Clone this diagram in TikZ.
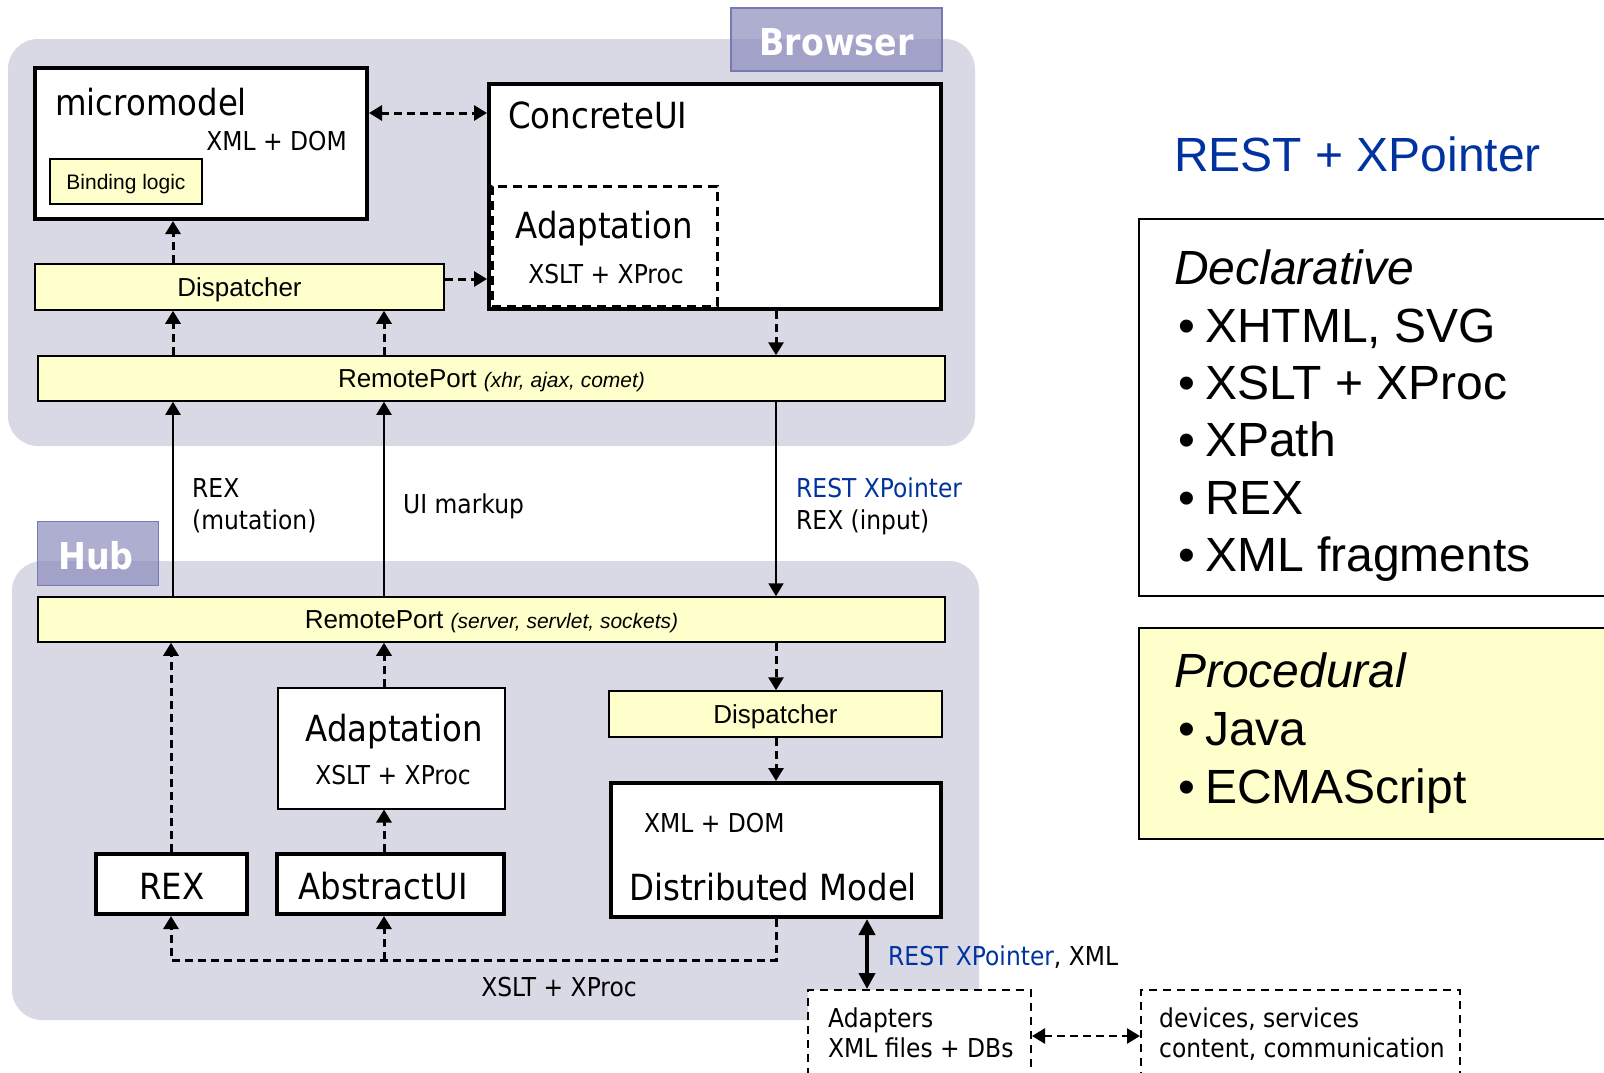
\documentclass[tikz,border=0pt]{standalone}
\usepackage{fontspec}
\setmainfont{Liberation Sans}
\newfontfamily\tah[FakeStretch=0.9]{DejaVu Sans}
\usetikzlibrary{arrows.meta}

\definecolor{panelbg}{RGB}{217,217,230}
\definecolor{tabfill}{RGB}{140,140,190}
\definecolor{tabline}{RGB}{120,120,180}
\definecolor{note}{RGB}{255,255,204}
\definecolor{restblue}{RGB}{0,51,160}

\newcommand\setfs[1]{\fontsize{#1}{#1}\selectfont}

\begin{document}
\begin{tikzpicture}[x=1pt,y=-1pt,
  panel/.style={fill=panelbg, rounded corners=30pt, inner sep=0pt},
  tab/.style={fill=tabfill, fill opacity=0.7, draw=tabline, line width=1.5pt, inner sep=0pt},
  tabtext/.style={anchor=base, inner sep=0pt, text=white, font=\tah\bfseries\setfs{37}},
  bigbox/.style={draw, fill=white, line width=4pt, inner sep=0pt},
  yel/.style={draw, fill=note, line width=1.5pt, inner sep=0pt,
    font=\setfs{26}, text height=18.6pt, text depth=0pt},
  big/.style={inner sep=0pt, font=\tah\setfs{36}},
  small/.style={inner sep=0pt, font=\tah\setfs{26}},
  rtext/.style={inner sep=0pt, anchor=base west, font=\setfs{48}},
  tip/.style={-{Triangle[length=13pt,width=15pt]}},
  dar/.style={tip, line width=3pt, dash pattern=on 8pt off 5pt},
  dline/.style={line width=3pt, dash pattern=on 8pt off 5pt},
  sar/.style={tip, line width=2pt},
  dbox/.style={draw, line width=2pt, dash pattern=on 8pt off 6pt, fill=white, inner sep=0pt}
]
\useasboundingbox (0,0) rectangle (1604,1072);

% column and row guides for the connectors
\coordinate (colA) at (173,0);
\coordinate (colA2) at (171,0);
\coordinate (colB) at (384,0);
\coordinate (colC) at (776,0);
\coordinate (colD) at (867,0);
\coordinate (rowA) at (0,113);
\coordinate (rowB) at (0,279);
\coordinate (rowC) at (0,960);
\coordinate (rowD) at (0,1036);

% ---------- panels ----------
\node[panel, minimum width=967pt, minimum height=407pt] (browser) at (491.5,242.5) {};
\node[panel, minimum width=967pt, minimum height=459pt] (hub) at (495.5,790.5) {};
\node[tab, minimum width=211pt, minimum height=63pt] (browsertab) at (836.5,39.5) {};
\node[tabtext] (browserlbl) at (836.5,55) {Browser};
\node[tab, minimum width=121pt, minimum height=64pt] (hubtab) at (98,553.5) {};
\node[tabtext] (hublbl) at (96,569) {Hub};

% ---------- browser side ----------
\node[bigbox, minimum width=332pt, minimum height=151pt] (mm) at (201,143.5) {};
\node[big, anchor=base west] (mmname) at (55,115) {micromodel};
\node[small, anchor=base east] (mmxml) at (347,150) {XML + DOM};
\node[yel, font=\setfs{21}, text height=15pt, minimum width=152pt, minimum height=45pt] (bind) at (126,181.5) {Binding logic};

\node[bigbox, minimum width=452pt, minimum height=225pt] (cui) at (715,196.5) {};
\node[big, anchor=base west] (cuiname) at (508,128) {ConcreteUI};
\node[draw, line width=3pt, dash pattern=on 9pt off 6pt, inner sep=0pt,
      minimum width=225pt, minimum height=120pt] (badapt) at (604.5,246) {};
\node[big, anchor=base] (badaptname) at (604,238) {Adaptation};
\node[small, anchor=base] (badaptx) at (606,283) {XSLT + XProc};

\node[yel, minimum width=409pt, minimum height=46pt] (disp1) at (239.5,287) {Dispatcher};
\node[yel, minimum width=907pt, minimum height=45pt] (rp1) at (491.5,378.5)
  {RemotePort {\setfs{21}\itshape(xhr, ajax, comet)}};

\draw[dar] (disp1.north -| colA) -- (mm.south -| colA);
\draw[dar] (rp1.north -| colA) -- (disp1.south -| colA);
\draw[dar] (rp1.north -| colB) -- (disp1.south -| colB);
\draw[dar, {Triangle[length=13pt,width=15pt]}-{Triangle[length=13pt,width=15pt]}]
  (mm.east |- rowA) -- (cui.west |- rowA);
\draw[dar] (disp1.east |- rowB) -- (cui.west |- rowB);
\draw[dar] (cui.south -| colC) -- (rp1.north -| colC);

% ---------- hub side ----------
\node[yel, minimum width=907pt, minimum height=45pt] (rp2) at (491.5,619.5)
  {RemotePort {\setfs{21}\itshape(server, servlet, sockets)}};
\node[draw, fill=white, line width=2pt, inner sep=0pt, minimum width=227pt, minimum height=121pt] (hadapt) at (391,748) {};
\node[big, anchor=base] (hadaptname) at (394,741) {Adaptation};
\node[small, anchor=base] (hadaptx) at (393,784) {XSLT + XProc};
\node[yel, minimum width=333pt, minimum height=46pt] (disp2) at (775.5,714) {Dispatcher};
\node[bigbox, minimum width=330pt, minimum height=134pt] (dm) at (776,850) {};
\node[small, anchor=base west] (dmxml) at (644,832) {XML + DOM};
\node[big, anchor=base west] (dmname) at (629,900) {Distributed Model};
\node[bigbox, minimum width=151pt, minimum height=60pt] (rex) at (171.5,884) {};
\node[big, anchor=base] (rexname) at (172,899) {REX};
\node[bigbox, minimum width=227pt, minimum height=60pt] (aui) at (390.5,884) {};
\node[big, anchor=base] (auiname) at (383,899) {AbstractUI};

\draw[dar] (rex.north -| colA2) -- (rp2.south -| colA2);
\draw[dar] (hadapt.north -| colB) -- (rp2.south -| colB);
\draw[dar] (aui.north -| colB) -- (hadapt.south -| colB);
\draw[dar] (rp2.south -| colC) -- (disp2.north -| colC);
\draw[dar] (disp2.south -| colC) -- (dm.north -| colC);
\draw[dar] (dm.south -| colC) -- (colC |- rowC) -- (colA2 |- rowC) -- (rex.south -| colA2);
\draw[dar] (colB |- rowC) -- (aui.south -| colB);
\node[small, anchor=base] (xsltlbl) at (559,996) {XSLT + XProc};

% ---------- links between browser and hub ----------
\draw[sar] (rp2.north -| colA) -- (rp1.south -| colA);
\draw[sar] (rp2.north -| colB) -- (rp1.south -| colB);
\draw[sar] (rp1.south -| colC) -- (rp2.north -| colC);
\node[small, anchor=base west] (mutlbl1) at (192,497) {REX};
\node[small, anchor=base west] (mutlbl2) at (192,529) {(mutation)};
\node[small, anchor=base west] (uilbl) at (403,513) {UI markup};
\node[small, anchor=base west, text=restblue] (inlbl1) at (796,497) {REST XPointer};
\node[small, anchor=base west] (inlbl2) at (796,529) {REX (input)};

% ---------- adapters ----------
\node[dbox, minimum width=223pt, minimum height=120pt] (adapt) at (919.5,1050) {};
\node[dbox, minimum width=319pt, minimum height=120pt] (dev) at (1300.5,1050) {};
\node[small, anchor=base west] (adlbl1) at (828,1027) {Adapters};
\node[small, anchor=base west] (adlbl2) at (828,1057) {XML files + DBs};
\node[small, anchor=base west] (devlbl1) at (1159,1027) {devices, services};
\node[small, anchor=base west] (devlbl2) at (1159,1057) {content, communication};
\draw[{Triangle[length=16pt,width=16pt]}-{Triangle[length=16pt,width=16pt]}, line width=4pt]
  (dm.south -| colD) -- (adapt.north -| colD);
\node[small, anchor=base west] (restlbl) at (888,965) {\textcolor{restblue}{REST XPointer}, XML};
\draw[line width=2.5pt, dash pattern=on 8pt off 5pt,
  {Triangle[length=13pt,width=15pt]}-{Triangle[length=13pt,width=15pt]}]
  (adapt.east |- rowD) -- (dev.west |- rowD);

% ---------- right-hand summary ----------
\node[rtext, text=restblue] (resttitle) at (1174,171) {REST + XPointer};
\node[draw, fill=white, line width=2pt, inner sep=0pt, minimum width=480pt, minimum height=377pt] (decl) at (1379,407.5) {};
\node[rtext, font=\setfs{48}\itshape] (d0) at (1174,284) {Declarative};
\node[rtext] (d1) at (1178,342) {\makebox[27pt][l]{•}XHTML, SVG};
\node[rtext] (d2) at (1178,399) {\makebox[27pt][l]{•}XSLT + XProc};
\node[rtext] (d3) at (1178,456) {\makebox[27pt][l]{•}XPath};
\node[rtext] (d4) at (1178,514) {\makebox[27pt][l]{•}REX};
\node[rtext] (d5) at (1178,571) {\makebox[27pt][l]{•}XML fragments};
\node[draw, fill=note, line width=2pt, inner sep=0pt, minimum width=480pt, minimum height=211pt] (proc) at (1379,733.5) {};
\node[rtext, font=\setfs{48}\itshape] (p0) at (1174,687) {Procedural};
\node[rtext] (p1) at (1178,745) {\makebox[27pt][l]{•}Java};
\node[rtext] (p2) at (1178,803) {\makebox[27pt][l]{•}ECMAScript};
\end{tikzpicture}
\end{document}
